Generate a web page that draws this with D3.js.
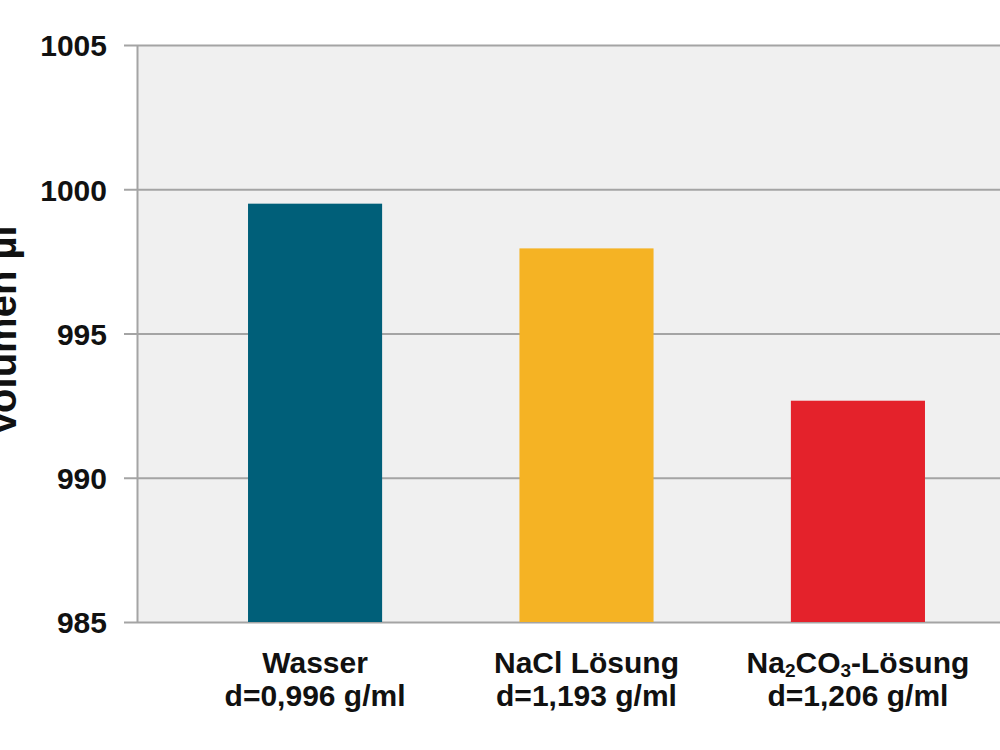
<!DOCTYPE html>
<html>
<head>
<meta charset="utf-8">
<script src="https://cdn.jsdelivr.net/npm/d3@7"></script>
<style>
  body { margin: 0; background: #fff; }
  svg { display: block; font-family: "Liberation Sans", Arial, sans-serif; font-weight: bold; }
</style>
</head>
<body>
<svg id="chart" width="1000" height="750"></svg>
<script>
// Daten
const kategorien = ['wasser', 'nacl', 'na2co3'];
const volumen = [999.5, 997.95, 992.67];
const farben = ['#005f79', '#f5b324', '#e4222b'];
const zeile1 = [
  [{ t: 'Wasser' }],
  [{ t: 'NaCl Lösung' }],
  [{ t: 'Na' }, { t: '2', sub: true }, { t: 'CO' }, { t: '3', sub: true }, { t: '-Lösung' }]
];
const zeile2 = ['d=0,996 g/ml', 'd=1,193 g/ml', 'd=1,206 g/ml'];
const yTicks = [985, 990, 995, 1000, 1005];
const yTitel = 'Volumen µl';

const margin = { top: 45, left: 137, bottom: 128 };
const height = 750;
const plotBottom = height - margin.bottom;

const svg = d3.select('#chart');

const x = d3.scaleBand()
  .domain(kategorien)
  .range([margin.left, 1036])
  .paddingInner(0.506)
  .paddingOuter(0.409);

const y = d3.scaleLinear()
  .domain([985, 1005])
  .range([plotBottom, margin.top]);

// Hintergrund
svg.append('rect')
  .attr('x', margin.left)
  .attr('y', margin.top)
  .attr('width', 1000 - margin.left)
  .attr('height', plotBottom - margin.top)
  .attr('fill', '#f0f0f0');

// Gitterlinien + Achse
const yAxis = d3.axisLeft(y)
  .tickValues(yTicks)
  .tickFormat(d3.format('d'))
  .tickSizeInner(-(1000 - margin.left))
  .tickSizeOuter(0)
  .tickPadding(30);

const ga = svg.append('g')
  .attr('transform', `translate(${margin.left},0)`)
  .call(yAxis);

ga.select('.domain').attr('stroke', '#a4a4a4').attr('stroke-width', 2);
ga.selectAll('.tick line')
  .attr('x1', -13)
  .attr('stroke', '#a4a4a4')
  .attr('stroke-width', 2);
ga.selectAll('.tick text')
  .attr('fill', '#111')
  .attr('font-size', 30)
  .attr('font-family', '"Liberation Sans", Arial, sans-serif')
  .attr('font-weight', 'bold')
  .attr('dy', '0.36em');

// Balken
svg.append('g')
  .selectAll('rect')
  .data(kategorien)
  .join('rect')
  .attr('x', d => x(d))
  .attr('y', (d, i) => y(volumen[i]))
  .attr('width', x.bandwidth())
  .attr('height', (d, i) => y(985) - y(volumen[i]))
  .attr('fill', (d, i) => farben[i]);

// Kategorien-Beschriftung
const lab = svg.append('g')
  .selectAll('g')
  .data(kategorien)
  .join('g')
  .attr('transform', d => `translate(${x(d) + x.bandwidth() / 2},0)`);

lab.append('text')
  .attr('y', 673)
  .attr('text-anchor', 'middle')
  .attr('font-size', 30)
  .attr('fill', '#111')
  .each(function (d, i) {
    const t = d3.select(this);
    zeile1[i].forEach(s => {
      const sp = t.append('tspan').text(s.t);
      if (s.sub) sp.attr('font-size', 19).attr('baseline-shift', '-20%');
    });
  });

lab.append('text')
  .attr('y', 706)
  .attr('text-anchor', 'middle')
  .attr('font-size', 30)
  .attr('fill', '#111')
  .text((d, i) => zeile2[i]);

// y-Achsentitel (im Original am Rand abgeschnitten)
svg.append('text')
  .attr('transform', 'translate(16,331) rotate(-90)')
  .attr('text-anchor', 'middle')
  .attr('font-size', 40)
  .attr('fill', '#111')
  .text(yTitel);
</script>
</body>
</html>
